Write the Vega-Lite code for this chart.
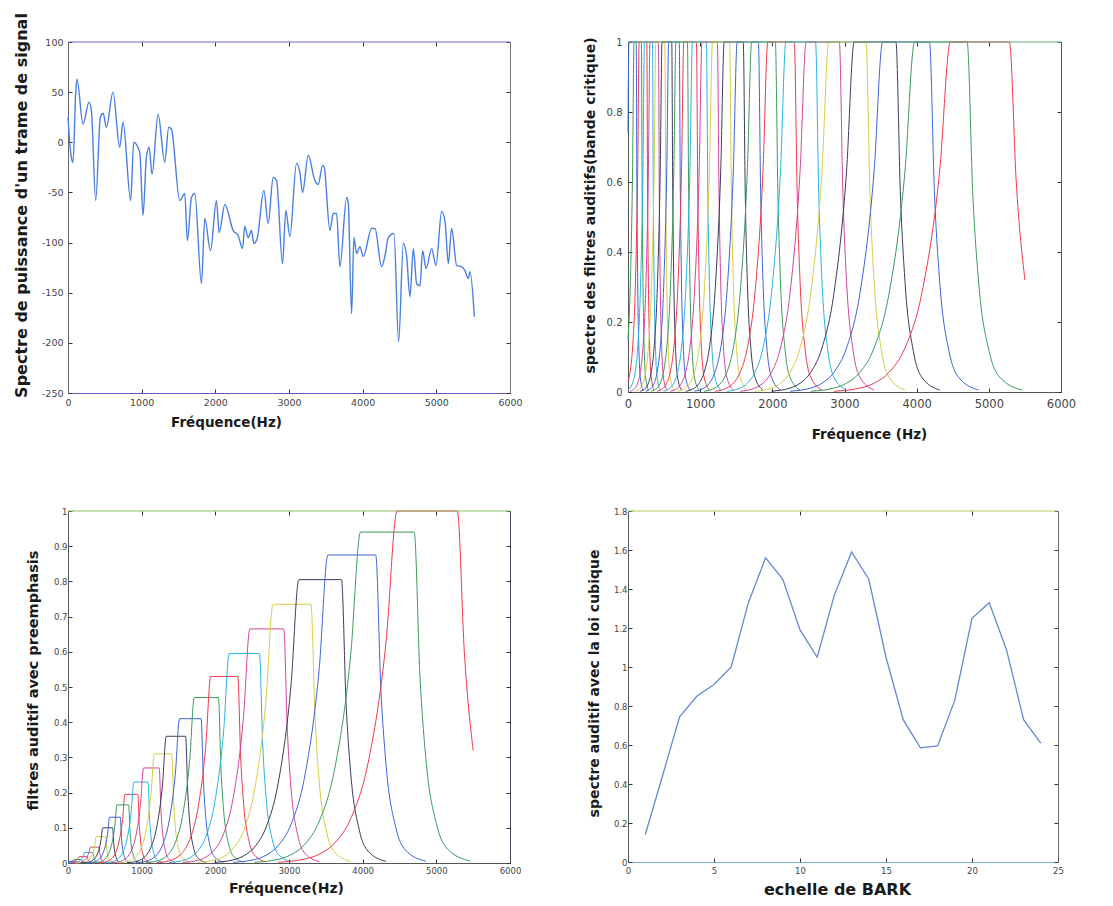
{
"$schema": "https://vega.github.io/schema/vega-lite/v6.json",
"padding": {"left": 12, "top": 12, "right": 5, "bottom": 5},
"background": "white",
"config": {
  "view": {"stroke": null},
  "axis": {"grid": false, "labelFont": "DejaVu Sans", "titleFont": "DejaVu Sans", "titleFontWeight": "bold", "titleColor": "#1a1a1a", "labelColor": "#444", "tickColor": "#333", "domainColor": "#555", "tickSize": -4, "titleBaseline": "middle", "titleAlign": "center", "labelFlush": false, "labelOverlap": false, "labelExpr": "'' + datum.value"}
},
"datasets": {
  "spec": [
    {"f":0,"db":25},{"f":23,"db":0},{"f":45,"db":-15},{"f":68,"db":-20},{"f":104,"db":48},{"f":122,"db":63},{"f":204,"db":18},{"f":285,"db":40},{"f":317,"db":32},{"f":376,"db":-58},{"f":439,"db":25},{"f":477,"db":29},{"f":521,"db":15},{"f":611,"db":50},{"f":702,"db":-5},{"f":747,"db":20},{"f":851,"db":-58},{"f":892,"db":0},{"f":974,"db":-10},{"f":1019,"db":-73},{"f":1064,"db":-15},{"f":1101,"db":-5},{"f":1141,"db":-32},{"f":1223,"db":28},{"f":1313,"db":-20},{"f":1368,"db":15},{"f":1404,"db":13},{"f":1517,"db":-58},{"f":1585,"db":-51},{"f":1621,"db":-98},{"f":1676,"db":-55},{"f":1721,"db":-51},{"f":1812,"db":-141},{"f":1857,"db":-76},{"f":1934,"db":-108},{"f":2015,"db":-58},{"f":2052,"db":-90},{"f":2129,"db":-62},{"f":2242,"db":-88},{"f":2310,"db":-93},{"f":2369,"db":-106},{"f":2400,"db":-84},{"f":2446,"db":-95},{"f":2491,"db":-88},{"f":2523,"db":-101},{"f":2568,"db":-96},{"f":2659,"db":-48},{"f":2717,"db":-81},{"f":2785,"db":-35},{"f":2831,"db":-38},{"f":2912,"db":-121},{"f":2957,"db":-68},{"f":3012,"db":-94},{"f":3102,"db":-21},{"f":3148,"db":-30},{"f":3184,"db":-50},{"f":3261,"db":-13},{"f":3351,"db":-38},{"f":3397,"db":-42},{"f":3456,"db":-23},{"f":3478,"db":-25},{"f":3555,"db":-88},{"f":3601,"db":-71},{"f":3646,"db":-71},{"f":3691,"db":-124},{"f":3782,"db":-55},{"f":3804,"db":-60},{"f":3850,"db":-171},{"f":3881,"db":-95},{"f":3918,"db":-111},{"f":3963,"db":-104},{"f":4008,"db":-114},{"f":4121,"db":-86},{"f":4167,"db":-86},{"f":4257,"db":-124},{"f":4303,"db":-113},{"f":4348,"db":-95},{"f":4425,"db":-91},{"f":4488,"db":-199},{"f":4552,"db":-101},{"f":4597,"db":-114},{"f":4642,"db":-154},{"f":4688,"db":-106},{"f":4733,"db":-141},{"f":4778,"db":-143},{"f":4814,"db":-108},{"f":4860,"db":-126},{"f":4937,"db":-106},{"f":4995,"db":-123},{"f":5072,"db":-69},{"f":5118,"db":-79},{"f":5163,"db":-121},{"f":5208,"db":-86},{"f":5276,"db":-123},{"f":5344,"db":-124},{"f":5389,"db":-128},{"f":5435,"db":-136},{"f":5457,"db":-129},{"f":5516,"db":-174}
  ],
  "filt": [
    {"i":0,"f":0,"h":0.741,"p":0.0037},{"i":0,"f":13,"h":1,"p":0.005},{"i":0,"f":113.7,"h":1,"p":0.005},{"i":0,"f":123.9,"h":0.562,"p":0.0028},{"i":0,"f":134.1,"h":0.316,"p":0.0016},{"i":0,"f":152.2,"h":0.1155,"p":0.0006},{"i":0,"f":170.2,"h":0.0422,"p":0.0002},{"i":0,"f":206.9,"h":0.0056,"p":0},
    {"i":1,"f":0,"h":0.148,"p":0.0015},{"i":1,"f":28,"h":0.2818,"p":0.0028},{"i":1,"f":63.1,"h":0.631,"p":0.0063},{"i":1,"f":83.3,"h":1,"p":0.01},{"i":1,"f":185.9,"h":1,"p":0.01},{"i":1,"f":196.4,"h":0.562,"p":0.0056},{"i":1,"f":206.9,"h":0.316,"p":0.0032},{"i":1,"f":225.6,"h":0.1155,"p":0.0012},{"i":1,"f":244.3,"h":0.0422,"p":0.0004},{"i":1,"f":282.5,"h":0.0056,"p":0.0001},
    {"i":2,"f":0,"h":0.0295,"p":0.0005},{"i":2,"f":28,"h":0.0562,"p":0.001},{"i":2,"f":63.1,"h":0.1259,"p":0.0023},{"i":2,"f":98.4,"h":0.2818,"p":0.0051},{"i":2,"f":134.1,"h":0.631,"p":0.0114},{"i":2,"f":154.7,"h":1,"p":0.018},{"i":2,"f":260.7,"h":1,"p":0.018},{"i":2,"f":271.6,"h":0.562,"p":0.0101},{"i":2,"f":282.5,"h":0.316,"p":0.0057},{"i":2,"f":302.1,"h":0.1155,"p":0.0021},{"i":2,"f":321.7,"h":0.0422,"p":0.0008},{"i":2,"f":362,"h":0.0056,"p":0.0001},
    {"i":3,"f":0,"h":0.0059,"p":0.0002},{"i":3,"f":28,"h":0.0112,"p":0.0003},{"i":3,"f":63.1,"h":0.0251,"p":0.0008},{"i":3,"f":98.4,"h":0.0562,"p":0.0017},{"i":3,"f":134.1,"h":0.1259,"p":0.0038},{"i":3,"f":170.2,"h":0.2818,"p":0.0085},{"i":3,"f":206.9,"h":0.631,"p":0.0189},{"i":3,"f":228.3,"h":1,"p":0.03},{"i":3,"f":339,"h":1,"p":0.03},{"i":3,"f":350.5,"h":0.562,"p":0.0169},{"i":3,"f":362,"h":0.316,"p":0.0095},{"i":3,"f":382.8,"h":0.1155,"p":0.0035},{"i":3,"f":403.5,"h":0.0422,"p":0.0013},{"i":3,"f":446.4,"h":0.0056,"p":0.0002},
    {"i":4,"f":28,"h":0.0022,"p":0.0001},{"i":4,"f":98.4,"h":0.0112,"p":0.0005},{"i":4,"f":134.1,"h":0.0251,"p":0.0011},{"i":4,"f":170.2,"h":0.0562,"p":0.0025},{"i":4,"f":206.9,"h":0.1259,"p":0.0057},{"i":4,"f":244.3,"h":0.2818,"p":0.0127},{"i":4,"f":282.5,"h":0.631,"p":0.0284},{"i":4,"f":304.9,"h":1,"p":0.045},{"i":4,"f":421.9,"h":1,"p":0.045},{"i":4,"f":434.1,"h":0.562,"p":0.0253},{"i":4,"f":446.4,"h":0.316,"p":0.0142},{"i":4,"f":468.6,"h":0.1155,"p":0.0052},{"i":4,"f":490.8,"h":0.0422,"p":0.0019},{"i":4,"f":536.9,"h":0.0056,"p":0.0003},
    {"i":5,"f":98.4,"h":0.0022,"p":0.0002},{"i":5,"f":170.2,"h":0.0112,"p":0.0008},{"i":5,"f":206.9,"h":0.0251,"p":0.0019},{"i":5,"f":244.3,"h":0.0562,"p":0.0042},{"i":5,"f":282.5,"h":0.1259,"p":0.0094},{"i":5,"f":321.7,"h":0.2818,"p":0.0211},{"i":5,"f":362,"h":0.631,"p":0.0473},{"i":5,"f":385.7,"h":1,"p":0.075},{"i":5,"f":510.6,"h":1,"p":0.075},{"i":5,"f":523.7,"h":0.562,"p":0.0422},{"i":5,"f":536.9,"h":0.316,"p":0.0237},{"i":5,"f":560.9,"h":0.1155,"p":0.0087},{"i":5,"f":584.8,"h":0.0422,"p":0.0032},{"i":5,"f":634.7,"h":0.0056,"p":0.0004},
    {"i":6,"f":170.2,"h":0.0022,"p":0.0002},{"i":6,"f":244.3,"h":0.0112,"p":0.0011},{"i":6,"f":282.5,"h":0.0251,"p":0.0025},{"i":6,"f":321.7,"h":0.0562,"p":0.0056},{"i":6,"f":362,"h":0.1259,"p":0.0126},{"i":6,"f":403.5,"h":0.2818,"p":0.0282},{"i":6,"f":446.4,"h":0.631,"p":0.0631},{"i":6,"f":471.8,"h":1,"p":0.1},{"i":6,"f":606.2,"h":1,"p":0.1},{"i":6,"f":620.4,"h":0.562,"p":0.0562},{"i":6,"f":634.7,"h":0.316,"p":0.0316},{"i":6,"f":660.7,"h":0.1155,"p":0.0116},{"i":6,"f":686.7,"h":0.0422,"p":0.0042},{"i":6,"f":741.1,"h":0.0056,"p":0.0006},
    {"i":7,"f":244.3,"h":0.0022,"p":0.0003},{"i":7,"f":321.7,"h":0.0112,"p":0.0015},{"i":7,"f":362,"h":0.0251,"p":0.0033},{"i":7,"f":403.5,"h":0.0562,"p":0.0073},{"i":7,"f":446.4,"h":0.1259,"p":0.0164},{"i":7,"f":490.8,"h":0.2818,"p":0.0366},{"i":7,"f":536.9,"h":0.631,"p":0.082},{"i":7,"f":564.3,"h":1,"p":0.13},{"i":7,"f":710,"h":1,"p":0.13},{"i":7,"f":725.5,"h":0.562,"p":0.0731},{"i":7,"f":741.1,"h":0.316,"p":0.0411},{"i":7,"f":769.6,"h":0.1155,"p":0.015},{"i":7,"f":798.1,"h":0.0422,"p":0.0055},{"i":7,"f":857.7,"h":0.0056,"p":0.0007},
    {"i":8,"f":321.7,"h":0.0022,"p":0.0004},{"i":8,"f":403.5,"h":0.0112,"p":0.0018},{"i":8,"f":446.4,"h":0.0251,"p":0.0041},{"i":8,"f":490.8,"h":0.0562,"p":0.0093},{"i":8,"f":536.9,"h":0.1259,"p":0.0208},{"i":8,"f":584.8,"h":0.2818,"p":0.0465},{"i":8,"f":634.7,"h":0.631,"p":0.1041},{"i":8,"f":664.4,"h":1,"p":0.165},{"i":8,"f":823.6,"h":1,"p":0.165},{"i":8,"f":840.7,"h":0.562,"p":0.0927},{"i":8,"f":857.7,"h":0.316,"p":0.0521},{"i":8,"f":889,"h":0.1155,"p":0.0191},{"i":8,"f":920.2,"h":0.0422,"p":0.007},{"i":8,"f":985.9,"h":0.0056,"p":0.0009},
    {"i":9,"f":403.5,"h":0.0022,"p":0.0004},{"i":9,"f":490.8,"h":0.0112,"p":0.0022},{"i":9,"f":536.9,"h":0.0251,"p":0.0049},{"i":9,"f":584.8,"h":0.0562,"p":0.011},{"i":9,"f":634.7,"h":0.1259,"p":0.0246},{"i":9,"f":686.7,"h":0.2818,"p":0.055},{"i":9,"f":741.1,"h":0.631,"p":0.123},{"i":9,"f":773.7,"h":1,"p":0.195},{"i":9,"f":948.4,"h":1,"p":0.195},{"i":9,"f":967.1,"h":0.562,"p":0.1096},{"i":9,"f":985.9,"h":0.316,"p":0.0616},{"i":9,"f":1020.5,"h":0.1155,"p":0.0225},{"i":9,"f":1055,"h":0.0422,"p":0.0082},{"i":9,"f":1127.6,"h":0.0056,"p":0.0011},
    {"i":10,"f":490.8,"h":0.0022,"p":0.0005},{"i":10,"f":584.8,"h":0.0112,"p":0.0026},{"i":10,"f":634.7,"h":0.0251,"p":0.0058},{"i":10,"f":686.7,"h":0.0562,"p":0.0129},{"i":10,"f":741.1,"h":0.1259,"p":0.029},{"i":10,"f":798.1,"h":0.2818,"p":0.0648},{"i":10,"f":857.7,"h":0.631,"p":0.1451},{"i":10,"f":893.4,"h":1,"p":0.23},{"i":10,"f":1086.1,"h":1,"p":0.23},{"i":10,"f":1106.8,"h":0.562,"p":0.1293},{"i":10,"f":1127.6,"h":0.316,"p":0.0727},{"i":10,"f":1165.9,"h":0.1155,"p":0.0266},{"i":10,"f":1204.1,"h":0.0422,"p":0.0097},{"i":10,"f":1284.6,"h":0.0056,"p":0.0013},
    {"i":11,"f":584.8,"h":0.0022,"p":0.0006},{"i":11,"f":686.7,"h":0.0112,"p":0.003},{"i":11,"f":741.1,"h":0.0251,"p":0.0068},{"i":11,"f":798.1,"h":0.0562,"p":0.0152},{"i":11,"f":857.7,"h":0.1259,"p":0.034},{"i":11,"f":920.2,"h":0.2818,"p":0.0761},{"i":11,"f":985.9,"h":0.631,"p":0.1704},{"i":11,"f":1025.4,"h":1,"p":0.27},{"i":11,"f":1238.6,"h":1,"p":0.27},{"i":11,"f":1261.6,"h":0.562,"p":0.1517},{"i":11,"f":1284.6,"h":0.316,"p":0.0853},{"i":11,"f":1327.1,"h":0.1155,"p":0.0312},{"i":11,"f":1369.6,"h":0.0422,"p":0.0114},{"i":11,"f":1459.2,"h":0.0056,"p":0.0015},
    {"i":12,"f":686.7,"h":0.0022,"p":0.0007},{"i":12,"f":798.1,"h":0.0112,"p":0.0035},{"i":12,"f":857.7,"h":0.0251,"p":0.0078},{"i":12,"f":920.2,"h":0.0562,"p":0.0174},{"i":12,"f":985.9,"h":0.1259,"p":0.039},{"i":12,"f":1055,"h":0.2818,"p":0.0874},{"i":12,"f":1127.6,"h":0.631,"p":0.1956},{"i":12,"f":1171.3,"h":1,"p":0.31},{"i":12,"f":1408,"h":1,"p":0.31},{"i":12,"f":1433.6,"h":0.562,"p":0.1742},{"i":12,"f":1459.2,"h":0.316,"p":0.098},{"i":12,"f":1506.5,"h":0.1155,"p":0.0358},{"i":12,"f":1553.8,"h":0.0422,"p":0.0131},{"i":12,"f":1653.6,"h":0.0056,"p":0.0017},
    {"i":13,"f":798.1,"h":0.0022,"p":0.0008},{"i":13,"f":920.2,"h":0.0112,"p":0.004},{"i":13,"f":985.9,"h":0.0251,"p":0.009},{"i":13,"f":1055,"h":0.0562,"p":0.0202},{"i":13,"f":1127.6,"h":0.1259,"p":0.0453},{"i":13,"f":1204.1,"h":0.2818,"p":0.1014},{"i":13,"f":1284.6,"h":0.631,"p":0.2272},{"i":13,"f":1333.2,"h":1,"p":0.36},{"i":13,"f":1596.6,"h":1,"p":0.36},{"i":13,"f":1625.1,"h":0.562,"p":0.2023},{"i":13,"f":1653.6,"h":0.316,"p":0.1138},{"i":13,"f":1706.4,"h":0.1155,"p":0.0416},{"i":13,"f":1759.1,"h":0.0422,"p":0.0152},{"i":13,"f":1870.6,"h":0.0056,"p":0.002},
    {"i":14,"f":920.2,"h":0.0022,"p":0.0009},{"i":14,"f":1055,"h":0.0112,"p":0.0046},{"i":14,"f":1127.6,"h":0.0251,"p":0.0103},{"i":14,"f":1204.1,"h":0.0562,"p":0.023},{"i":14,"f":1284.6,"h":0.1259,"p":0.0516},{"i":14,"f":1369.6,"h":0.2818,"p":0.1155},{"i":14,"f":1459.2,"h":0.631,"p":0.2587},{"i":14,"f":1513.3,"h":1,"p":0.41},{"i":14,"f":1806.9,"h":1,"p":0.41},{"i":14,"f":1838.7,"h":0.562,"p":0.2304},{"i":14,"f":1870.6,"h":0.316,"p":0.1296},{"i":14,"f":1929.5,"h":0.1155,"p":0.0474},{"i":14,"f":1988.4,"h":0.0422,"p":0.0173},{"i":14,"f":2113,"h":0.0056,"p":0.0023},
    {"i":15,"f":1055,"h":0.0022,"p":0.001},{"i":15,"f":1204.1,"h":0.0112,"p":0.0053},{"i":15,"f":1284.6,"h":0.0251,"p":0.0118},{"i":15,"f":1369.6,"h":0.0562,"p":0.0264},{"i":15,"f":1459.2,"h":0.1259,"p":0.0592},{"i":15,"f":1553.8,"h":0.2818,"p":0.1324},{"i":15,"f":1653.6,"h":0.631,"p":0.2966},{"i":15,"f":1713.9,"h":1,"p":0.47},{"i":15,"f":2041.8,"h":1,"p":0.47},{"i":15,"f":2077.4,"h":0.562,"p":0.2641},{"i":15,"f":2113,"h":0.316,"p":0.1485},{"i":15,"f":2178.9,"h":0.1155,"p":0.0543},{"i":15,"f":2244.8,"h":0.0422,"p":0.0198},{"i":15,"f":2384.3,"h":0.0056,"p":0.0026},
    {"i":16,"f":1204.1,"h":0.0022,"p":0.0012},{"i":16,"f":1369.6,"h":0.0112,"p":0.0059},{"i":16,"f":1459.2,"h":0.0251,"p":0.0133},{"i":16,"f":1553.8,"h":0.0562,"p":0.0298},{"i":16,"f":1653.6,"h":0.1259,"p":0.0667},{"i":16,"f":1759.1,"h":0.2818,"p":0.1494},{"i":16,"f":1870.6,"h":0.631,"p":0.3344},{"i":16,"f":1937.9,"h":1,"p":0.53},{"i":16,"f":2304.6,"h":1,"p":0.53},{"i":16,"f":2344.4,"h":0.562,"p":0.2979},{"i":16,"f":2384.3,"h":0.316,"p":0.1675},{"i":16,"f":2458.1,"h":0.1155,"p":0.0612},{"i":16,"f":2531.9,"h":0.0422,"p":0.0224},{"i":16,"f":2688,"h":0.0056,"p":0.003},
    {"i":17,"f":1369.6,"h":0.0022,"p":0.0013},{"i":17,"f":1553.8,"h":0.0112,"p":0.0067},{"i":17,"f":1653.6,"h":0.0251,"p":0.0149},{"i":17,"f":1759.1,"h":0.0562,"p":0.0334},{"i":17,"f":1870.6,"h":0.1259,"p":0.0749},{"i":17,"f":1988.4,"h":0.2818,"p":0.1677},{"i":17,"f":2113,"h":0.631,"p":0.3754},{"i":17,"f":2188.3,"h":1,"p":0.595},{"i":17,"f":2598.8,"h":1,"p":0.595},{"i":17,"f":2643.4,"h":0.562,"p":0.3344},{"i":17,"f":2688,"h":0.316,"p":0.188},{"i":17,"f":2770.7,"h":0.1155,"p":0.0687},{"i":17,"f":2853.3,"h":0.0422,"p":0.0251},{"i":17,"f":3028.4,"h":0.0056,"p":0.0033},
    {"i":18,"f":1553.8,"h":0.0022,"p":0.0015},{"i":18,"f":1759.1,"h":0.0112,"p":0.0074},{"i":18,"f":1870.6,"h":0.0251,"p":0.0167},{"i":18,"f":1988.4,"h":0.0562,"p":0.0374},{"i":18,"f":2113,"h":0.1259,"p":0.0837},{"i":18,"f":2244.8,"h":0.2818,"p":0.1874},{"i":18,"f":2384.3,"h":0.631,"p":0.4196},{"i":18,"f":2468.6,"h":1,"p":0.665},{"i":18,"f":2928.3,"h":1,"p":0.665},{"i":18,"f":2978.3,"h":0.562,"p":0.3737},{"i":18,"f":3028.4,"h":0.316,"p":0.2101},{"i":18,"f":3121.1,"h":0.1155,"p":0.0768},{"i":18,"f":3213.7,"h":0.0422,"p":0.0281},{"i":18,"f":3410,"h":0.0056,"p":0.0037},
    {"i":19,"f":1759.1,"h":0.0022,"p":0.0016},{"i":19,"f":1988.4,"h":0.0112,"p":0.0082},{"i":19,"f":2113,"h":0.0251,"p":0.0184},{"i":19,"f":2244.8,"h":0.0562,"p":0.0413},{"i":19,"f":2384.3,"h":0.1259,"p":0.0925},{"i":19,"f":2531.9,"h":0.2818,"p":0.2071},{"i":19,"f":2688,"h":0.631,"p":0.4638},{"i":19,"f":2782.5,"h":1,"p":0.735},{"i":19,"f":3297.8,"h":1,"p":0.735},{"i":19,"f":3353.9,"h":0.562,"p":0.4131},{"i":19,"f":3410,"h":0.316,"p":0.2323},{"i":19,"f":3514,"h":0.1155,"p":0.0849},{"i":19,"f":3617.9,"h":0.0422,"p":0.031},{"i":19,"f":3838.1,"h":0.0056,"p":0.0041},
    {"i":20,"f":1988.4,"h":0.0022,"p":0.0018},{"i":20,"f":2244.8,"h":0.0112,"p":0.009},{"i":20,"f":2384.3,"h":0.0251,"p":0.0202},{"i":20,"f":2531.9,"h":0.0562,"p":0.0452},{"i":20,"f":2688,"h":0.1259,"p":0.1013},{"i":20,"f":2853.3,"h":0.2818,"p":0.2268},{"i":20,"f":3028.4,"h":0.631,"p":0.508},{"i":20,"f":3134.3,"h":1,"p":0.805},{"i":20,"f":3712.3,"h":1,"p":0.805},{"i":20,"f":3775.1,"h":0.562,"p":0.4524},{"i":20,"f":3838.1,"h":0.316,"p":0.2544},{"i":20,"f":3954.7,"h":0.1155,"p":0.093},{"i":20,"f":4071.3,"h":0.0422,"p":0.034},{"i":20,"f":4318.5,"h":0.0056,"p":0.0045},
    {"i":21,"f":2244.8,"h":0.0022,"p":0.0019},{"i":21,"f":2531.9,"h":0.0112,"p":0.0098},{"i":21,"f":2688,"h":0.0251,"p":0.022},{"i":21,"f":2853.3,"h":0.0562,"p":0.0492},{"i":21,"f":3028.4,"h":0.1259,"p":0.1102},{"i":21,"f":3213.7,"h":0.2818,"p":0.2466},{"i":21,"f":3410,"h":0.631,"p":0.5521},{"i":21,"f":3528.8,"h":1,"p":0.875},{"i":21,"f":4177.2,"h":1,"p":0.875},{"i":21,"f":4247.8,"h":0.562,"p":0.4918},{"i":21,"f":4318.5,"h":0.316,"p":0.2765},{"i":21,"f":4449.4,"h":0.1155,"p":0.1011},{"i":21,"f":4580.3,"h":0.0422,"p":0.0369},{"i":21,"f":4857.7,"h":0.0056,"p":0.0049},
    {"i":22,"f":2531.9,"h":0.0022,"p":0.0021},{"i":22,"f":2853.3,"h":0.0112,"p":0.0105},{"i":22,"f":3028.4,"h":0.0251,"p":0.0236},{"i":22,"f":3213.7,"h":0.0562,"p":0.0528},{"i":22,"f":3410,"h":0.1259,"p":0.1183},{"i":22,"f":3617.9,"h":0.2818,"p":0.2649},{"i":22,"f":3838.1,"h":0.631,"p":0.5931},{"i":22,"f":3971.4,"h":1,"p":0.94},{"i":22,"f":4699.2,"h":1,"p":0.94},{"i":22,"f":4778.4,"h":0.562,"p":0.5283},{"i":22,"f":4857.7,"h":0.316,"p":0.297},{"i":22,"f":5004.7,"h":0.1155,"p":0.1086},{"i":22,"f":5151.7,"h":0.0422,"p":0.0397},{"i":22,"f":5463.1,"h":0.0056,"p":0.0053},
    {"i":23,"f":2853.3,"h":0.0022,"p":0.0022},{"i":23,"f":3213.7,"h":0.0112,"p":0.0112},{"i":23,"f":3410,"h":0.0251,"p":0.0251},{"i":23,"f":3617.9,"h":0.0562,"p":0.0562},{"i":23,"f":3838.1,"h":0.1259,"p":0.1259},{"i":23,"f":4071.3,"h":0.2818,"p":0.2818},{"i":23,"f":4318.5,"h":0.631,"p":0.631},{"i":23,"f":4468.1,"h":1,"p":1},{"i":23,"f":5285.2,"h":1,"p":1},{"i":23,"f":5380,"h":0.6,"p":0.6},{"i":23,"f":5500,"h":0.32,"p":0.32}
  ],
  "bark": [
    {"b":1,"v":0.14},{"b":2,"v":0.44},{"b":3,"v":0.745},{"b":4,"v":0.85},{"b":5,"v":0.91},{"b":6,"v":1.0},{"b":7,"v":1.33},{"b":8,"v":1.56},{"b":9,"v":1.45},{"b":10,"v":1.19},{"b":11,"v":1.05},{"b":12,"v":1.37},{"b":13,"v":1.59},{"b":14,"v":1.45},{"b":15,"v":1.05},{"b":16,"v":0.73},{"b":17,"v":0.585},{"b":18,"v":0.595},{"b":19,"v":0.83},{"b":20,"v":1.25},{"b":21,"v":1.33},{"b":22,"v":1.09},{"b":23,"v":0.73},{"b":24,"v":0.61}
  ]
},
"concat": [
    {"width": 442, "height": 351, "data": {"name": "spec"},
     "layer": [
      {"mark": {"type": "line", "color": "#4a7fe0", "strokeWidth": 1.4, "interpolate": "monotone"},
       "encoding": {
        "x": {"field": "f", "type": "quantitative", "scale": {"domain": [0, 6000], "nice": false, "zero": false},
              "axis": {"values": [0,1000,2000,3000,4000,5000,6000], "labelFontSize": 9.5, "labelPadding": 8, "domainColor": "#6a58c0", "title": "Fréquence(Hz)", "titleFontSize": 13.5, "titleX": 158, "titleY": 29}},
        "y": {"field": "db", "type": "quantitative", "scale": {"domain": [-250, 100], "nice": false, "zero": false},
              "axis": {"values": [-250,-200,-150,-100,-50,0,50,100], "labelFontSize": 9.5, "labelPadding": 9, "domainColor": "#666", "title": "Spectre de puissance d'un trame de signal", "titleFontSize": 16, "titleX": -47, "titleY": 163}}
       }},
      {"data": {"values": [{"a": 0, "b": 6000, "c": 100}]},
       "mark": {"type": "rule", "color": "#7a64c8", "strokeWidth": 1.2},
       "encoding": {
        "x": {"field": "a", "type": "quantitative", "scale": {"domain": [0, 6000], "nice": false, "zero": false}, "axis": {"orient": "top", "values": [0,1000,2000,3000,4000,5000,6000], "labels": false, "title": null, "domain": false}},
        "x2": {"field": "b"},
        "y": {"field": "c", "type": "quantitative", "scale": {"domain": [-250, 100], "nice": false, "zero": false}, "axis": {"orient": "right", "values": [-250,-200,-150,-100,-50,0,50,100], "labels": false, "title": null, "domainColor": "#777"}}
       }}
     ],
     "resolve": {"axis": {"x": "independent", "y": "independent"}}
    },
    {"width": 433, "height": 350, "data": {"name": "filt"},
     "layer": [
      {"mark": {"type": "line", "strokeWidth": 1, "interpolate": "monotone"},
       "encoding": {
        "x": {"field": "f", "type": "quantitative", "scale": {"domain": [0, 6000], "nice": false, "zero": false},
              "axis": {"values": [0,1000,2000,3000,4000,5000,6000], "labelFontSize": 11.5, "labelPadding": 10, "title": "Fréquence (Hz)", "titleFontSize": 13.5, "titleX": 241, "titleY": 42}},
        "y": {"field": "h", "type": "quantitative", "scale": {"domain": [0, 1], "nice": false, "zero": false},
              "axis": {"values": [0,0.2,0.4,0.6,0.8,1], "labelFontSize": 10, "labelPadding": 10, "title": "spectre des filtres auditifs(bande critique)", "titleFontSize": 14, "titleX": -38, "titleY": 163}},
        "color": {"field": "i", "type": "nominal", "legend": null,
                  "scale": {"domain": [0,1,2,3,4,5,6,7,8,9,10,11,12,13,14,15,16,17,18,19,20,21,22,23],
                            "range": ["#3b63d8","#3c9a5c","#f0384c","#26b4e2","#d2449e","#d6cf46","#3a3a5c","#3b63d8","#3c9a5c","#f0384c","#26b4e2","#d2449e","#d6cf46","#3a3a5c","#3b63d8","#3c9a5c","#f0384c","#26b4e2","#d2449e","#d6cf46","#3a3a5c","#3b63d8","#3c9a5c","#f0384c"]}}
       }},
      {"data": {"values": [{"a": 0, "b": 6000, "c": 1}]},
       "mark": {"type": "rule", "color": "#62a878", "strokeWidth": 1.2},
       "encoding": {
        "x": {"field": "a", "type": "quantitative", "scale": {"domain": [0, 6000], "nice": false, "zero": false}, "axis": {"orient": "top", "values": [0,1000,2000,3000,4000,5000,6000], "labels": false, "title": null, "domain": false}},
        "x2": {"field": "b"},
        "y": {"field": "c", "type": "quantitative", "scale": {"domain": [0, 1], "nice": false, "zero": false}, "axis": {"orient": "right", "values": [0,0.2,0.4,0.6,0.8,1], "labels": false, "title": null, "domainColor": "#555"}}
       }}
     ],
     "resolve": {"axis": {"x": "independent", "y": "independent"}}
    },
    {"width": 442, "height": 352, "data": {"name": "filt"},
     "layer": [
      {"mark": {"type": "line", "strokeWidth": 1, "interpolate": "monotone"},
       "encoding": {
        "x": {"field": "f", "type": "quantitative", "scale": {"domain": [0, 6000], "nice": false, "zero": false},
              "axis": {"values": [0,1000,2000,3000,4000,5000,6000], "labelFontSize": 8.5, "labelPadding": 7, "title": "Fréquence(Hz)", "titleFontSize": 14, "titleX": 218, "titleY": 25}},
        "y": {"field": "p", "type": "quantitative", "scale": {"domain": [0, 1], "nice": false, "zero": false},
              "axis": {"values": [0,0.1,0.2,0.3,0.4,0.5,0.6,0.7,0.8,0.9,1], "labelFontSize": 8.5, "labelPadding": 5, "title": "filtres auditif avec preemphasis", "titleFontSize": 14.5, "titleX": -35, "titleY": 169}},
        "color": {"field": "i", "type": "nominal", "legend": null,
                  "scale": {"domain": [0,1,2,3,4,5,6,7,8,9,10,11,12,13,14,15,16,17,18,19,20,21,22,23],
                            "range": ["#3b63d8","#3c9a5c","#f0384c","#26b4e2","#d2449e","#d6cf46","#3a3a5c","#3b63d8","#3c9a5c","#f0384c","#26b4e2","#d2449e","#d6cf46","#3a3a5c","#3b63d8","#3c9a5c","#f0384c","#26b4e2","#d2449e","#d6cf46","#3a3a5c","#3b63d8","#3c9a5c","#f0384c"]}}
       }},
      {"data": {"values": [{"a": 0, "b": 6000, "c": 1}]},
       "mark": {"type": "rule", "color": "#8cbe6a", "strokeWidth": 1.2},
       "encoding": {
        "x": {"field": "a", "type": "quantitative", "scale": {"domain": [0, 6000], "nice": false, "zero": false}, "axis": {"orient": "top", "values": [0,1000,2000,3000,4000,5000,6000], "labels": false, "title": null, "domain": false}},
        "x2": {"field": "b"},
        "y": {"field": "c", "type": "quantitative", "scale": {"domain": [0, 1], "nice": false, "zero": false}, "axis": {"orient": "right", "values": [0,0.1,0.2,0.3,0.4,0.5,0.6,0.7,0.8,0.9,1], "labels": false, "title": null, "domainColor": "#445"}}
       }}
     ],
     "resolve": {"axis": {"x": "independent", "y": "independent"}}
    },
    {"width": 430, "height": 351, "data": {"name": "bark"},
     "layer": [
      {"mark": {"type": "line", "color": "#6688d0", "strokeWidth": 1.3},
       "encoding": {
        "x": {"field": "b", "type": "quantitative", "scale": {"domain": [0, 25], "nice": false, "zero": false},
              "axis": {"values": [0,5,10,15,20,25], "labelFontSize": 8.5, "labelPadding": 8, "domainColor": "#7ab0d0", "title": "echelle de BARK", "titleFontSize": 16, "titleX": 209, "titleY": 27}},
        "y": {"field": "v", "type": "quantitative", "scale": {"domain": [0, 1.8], "nice": false, "zero": false},
              "axis": {"values": [0,0.2,0.4,0.6,0.8,1,1.2,1.4,1.6,1.8], "labelFontSize": 8.5, "labelPadding": 5, "title": "spectre auditif avec la loi cubique", "titleFontSize": 14, "titleX": -34, "titleY": 172}}
       }},
      {"data": {"values": [{"a": 0, "b": 25, "c": 1.8}]},
       "mark": {"type": "rule", "color": "#b4c85a", "strokeWidth": 1.2},
       "encoding": {
        "x": {"field": "a", "type": "quantitative", "scale": {"domain": [0, 25], "nice": false, "zero": false}, "axis": {"orient": "top", "values": [0,5,10,15,20,25], "labels": false, "title": null, "domain": false}},
        "x2": {"field": "b"},
        "y": {"field": "c", "type": "quantitative", "scale": {"domain": [0, 1.8], "nice": false, "zero": false}, "axis": {"orient": "right", "values": [0,0.2,0.4,0.6,0.8,1,1.2,1.4,1.6,1.8], "labels": false, "title": null, "domainColor": "#666"}}
       }}
     ],
     "resolve": {"axis": {"x": "independent", "y": "independent"}}
    }
],
"columns": 2,
"spacing": {"row": 118, "column": 118},
"bounds": "flush"
}
